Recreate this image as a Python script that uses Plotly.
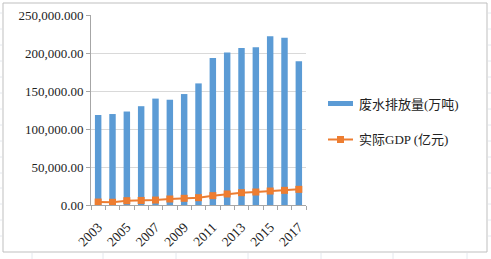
import plotly.graph_objects as go

years = [2003, 2004, 2005, 2006, 2007, 2008, 2009, 2010, 2011, 2012, 2013, 2014, 2015, 2016, 2017]
wastewater = [118400, 119700, 123000, 130000, 140000, 138500, 146000, 160000, 193400, 200500, 206500, 207500, 222000, 220000, 189000]
real_gdp = [3900, 3600, 5700, 6000, 6500, 7900, 8800, 9600, 12300, 14500, 16200, 17100, 18400, 19300, 20600]

y_tickvals = [0, 50000, 100000, 150000, 200000, 250000]
y_ticktext = ["0.00", "50,000.00", "100,000.00", "150,000.00", "200,000.00", "250,000.000"]
x_tickvals = [2003, 2005, 2007, 2009, 2011, 2013, 2015, 2017]
x_ticktext = [str(v) for v in x_tickvals]

name_bar = "废水排放量(万吨)"
name_line = "实际GDP (亿元)"

BLUE = "#5B9BD5"
ORANGE = "#ED7D31"
FONT = "Liberation Serif, Noto Sans CJK SC"

W, H = 491, 259
L, R, T, B = 91, 306, 15, 205


def px(x):
    return (x - L) / (R - L)


def py(y):
    return (B - y) / (B - T)


fig = go.Figure()
fig.add_trace(go.Bar(x=years, y=wastewater, name=name_bar, marker_color=BLUE,
                     marker_line_width=0, showlegend=False))
fig.add_trace(go.Scatter(x=years, y=real_gdp, name=name_line, mode="lines+markers",
                         line=dict(color=ORANGE, width=2),
                         marker=dict(symbol="square", size=7, color=ORANGE),
                         showlegend=False))

shapes = []
# chart border
shapes.append(dict(type="rect", xref="paper", yref="paper",
                   x0=px(3), x1=px(487), y0=py(3), y1=py(252),
                   line=dict(color="#bfbfbf", width=1), fillcolor="rgba(0,0,0,0)", layer="below"))
# faint sheet gridlines outside chart
for gx in [32, 103, 176, 248, 321, 393, 467]:
    shapes.append(dict(type="line", xref="paper", yref="paper", x0=px(gx), x1=px(gx),
                       y0=py(253), y1=py(259), line=dict(color="#e4e8ee", width=1)))
for gy in [13, 29, 45, 61, 77, 93, 109, 125, 141, 157, 173, 188, 204, 220, 236]:
    shapes.append(dict(type="line", xref="paper", yref="paper", x0=px(488), x1=px(491),
                       y0=py(gy), y1=py(gy), line=dict(color="#e4e8ee", width=1)))
    shapes.append(dict(type="line", xref="paper", yref="paper", x0=px(0), x1=px(2),
                       y0=py(gy), y1=py(gy), line=dict(color="#e4e8ee", width=1)))
# legend
shapes.append(dict(type="rect", xref="paper", yref="paper", x0=px(328), x1=px(353),
                   y0=py(106), y1=py(101), line=dict(width=0), fillcolor=BLUE))
shapes.append(dict(type="line", xref="paper", yref="paper", x0=px(328), x1=px(353),
                   y0=py(139.5), y1=py(139.5), line=dict(color=ORANGE, width=2)))
shapes.append(dict(type="rect", xref="paper", yref="paper", x0=px(337), x1=px(344),
                   y0=py(143), y1=py(136), line=dict(width=0), fillcolor=ORANGE))

annotations = [
    dict(text=name_bar, xref="paper", yref="paper", x=px(357), y=py(104), xanchor="left",
         yanchor="middle", showarrow=False, font=dict(family=FONT, size=13, color="#222")),
    dict(text=name_line, xref="paper", yref="paper", x=px(357), y=py(139.5), xanchor="left",
         yanchor="middle", showarrow=False, font=dict(family=FONT, size=13, color="#222")),
]

fig.update_layout(
    width=W, height=H,
    margin=dict(l=L, r=W - R, t=T, b=H - B, autoexpand=False),
    paper_bgcolor="white", plot_bgcolor="white",
    bargap=0.55,
    font=dict(family=FONT, size=13, color="#222"),
    shapes=shapes, annotations=annotations,
    showlegend=False,
)
fig.update_xaxes(
    range=[2002.5, 2017.5], tickvals=x_tickvals, ticktext=x_ticktext, tickangle=-45,
    ticks="", showgrid=False, showline=True, linecolor="#a6a6a6", linewidth=1,
    tickfont=dict(family=FONT, size=13.5, color="#222"), automargin=False,
    ticklabelstandoff=8,
    minor=dict(tickvals=[y + 0.5 for y in [2002] + years], ticks="outside", ticklen=4,
               tickcolor="#a6a6a6", showgrid=False),
    zeroline=False,
)
fig.update_yaxes(
    range=[0, 250000], tickvals=y_tickvals, ticktext=y_ticktext,
    ticks="outside", ticklen=4, tickcolor="#a6a6a6", automargin=False,
    showgrid=True, gridcolor="#d9d9d9", gridwidth=1,
    showline=True, linecolor="#a6a6a6", linewidth=1, zeroline=False,
    tickfont=dict(family=FONT, size=13, color="#222"),
)

fig.write_html("out.html", config={"displayModeBar": False},
               post_script="document.body.style.margin='0';document.body.style.overflow='hidden';")
